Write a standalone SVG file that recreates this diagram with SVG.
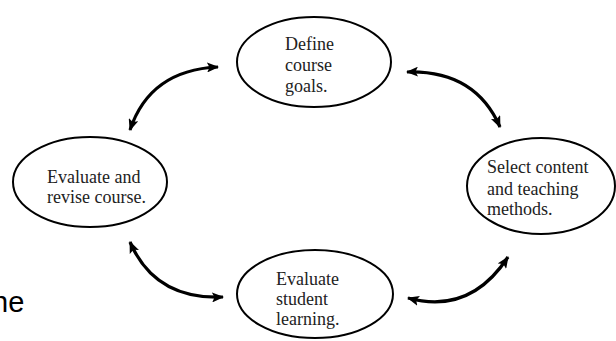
<svg xmlns="http://www.w3.org/2000/svg" width="616" height="341" viewBox="0 0 616 341">
<style>
.node ellipse{fill:#fff;stroke:#000;stroke-width:2}
.node text{font-family:"Liberation Serif","Times New Roman",serif;font-size:18px;fill:#222}
.conn path{fill:none;stroke:#000;stroke-width:3.2;marker-start:url(#ah);marker-end:url(#ah)}
.frag{font-family:"Liberation Sans",Arial,sans-serif;font-size:29px;fill:#000}
</style>
<defs>
<marker id="ah" viewBox="0 0 12 10" refX="11" refY="5" markerWidth="12" markerHeight="10" markerUnits="userSpaceOnUse" orient="auto-start-reverse">
<path d="M0,0 L12,5 L0,10 L2.5,5 z" fill="#000"/>
</marker>
</defs>
<rect width="616" height="341" fill="#fff"/>
<g class="conn">
<path d="M130,130 Q150,70 218,67"/>
<path d="M407,72 Q475,70 500,127"/>
<path d="M408,298 Q470,315 508,257"/>
<path d="M130,242 Q155,300 223,297"/>
</g>
<g id="n-define" class="node">
<ellipse cx="314" cy="62" rx="77" ry="45"/>
<text x="285" y="50">Define</text>
<text x="285" y="71">course</text>
<text x="285" y="92">goals.</text>
</g>
<g id="n-evaluate-revise" class="node">
<ellipse cx="90" cy="182" rx="77" ry="45"/>
<text x="47" y="183">Evaluate and</text>
<text x="47" y="203">revise course.</text>
</g>
<g id="n-select" class="node">
<ellipse cx="541" cy="186" rx="74" ry="48"/>
<text x="487" y="173">Select content</text>
<text x="487" y="195">and teaching</text>
<text x="487" y="215">methods.</text>
</g>
<g id="n-evaluate-student" class="node">
<ellipse cx="315" cy="294" rx="78" ry="44"/>
<text x="276" y="285">Evaluate</text>
<text x="276" y="305">student</text>
<text x="276" y="325">learning.</text>
</g>
<text class="frag" x="-8" y="312">ne</text>
</svg>
